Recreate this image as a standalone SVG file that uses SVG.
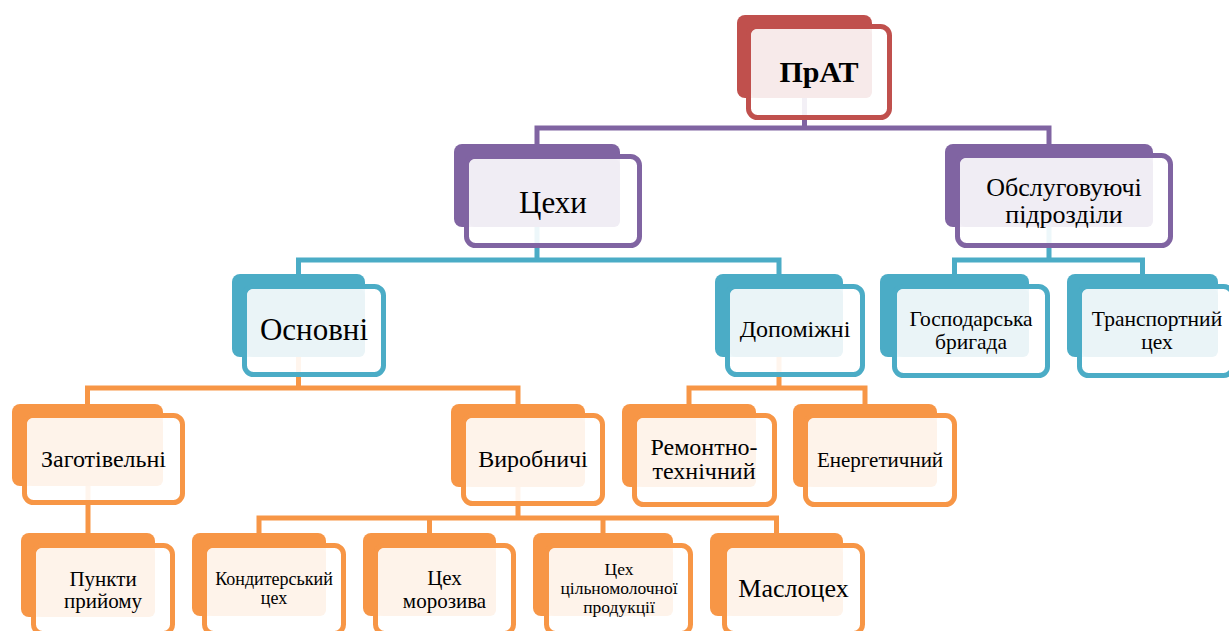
<svg xmlns="http://www.w3.org/2000/svg" width="1229" height="631" viewBox="0 0 1229 631">
<style>
.t{font-family:"Liberation Serif","Times New Roman",serif;fill:#000;text-anchor:middle}
.c{fill:none;stroke-width:5;stroke-linecap:butt;stroke-linejoin:miter}
.o{fill:#fff;fill-opacity:.9;stroke-width:5}
.rb{fill:#C0504D}.ro{stroke:#C0504D}.ri{fill:#F7EAEA}
.pb{fill:#8064A2}.po{stroke:#8064A2}.pi{fill:#F0EDF4}
.tb{fill:#4BACC6}.to{stroke:#4BACC6}.ti{fill:#EAF4F7}
.ob{fill:#F79646}.oo{stroke:#F79646}.oi{fill:#FEF3EA}
</style>
<rect width="1229" height="631" fill="#fff"/>
<g id="connectors">
<path class="c" stroke="#8064A2" d="M537,144V128H1049V144M804.5,98V128"/>
<path class="c" stroke="#4BACC6" d="M298.5,274V260H779V274M537,227V260"/>
<path class="c" stroke="#4BACC6" d="M954.5,274V260H1142.5V274M1049,227V260"/>
<path class="c" stroke="#F79646" d="M87.5,404V388H518V404M298.5,357V388"/>
<path class="c" stroke="#F79646" d="M689,404V388H865V404M779,357V388"/>
<path class="c" stroke="#F79646" d="M88,486V533"/>
<path class="c" stroke="#F79646" d="M259,533V518H776.5V533M518,487V518M429.5,518V533M603,518V533"/>
</g>
<g id="n-prat">
<rect class="rb" x="737" y="15" width="135" height="83" rx="8"/>
<rect class="o ro" x="748.5" y="26.5" width="141" height="91" rx="9"/>
<rect class="ri" x="751" y="29" width="121" height="69" rx="6"/>
<text class="t" x="819" y="82" font-size="30" font-weight="bold">ПрАТ</text>
</g>
<g id="n-tsekhy">
<rect class="pb" x="454" y="144" width="166" height="83" rx="8"/>
<rect class="o po" x="466.5" y="156.5" width="173" height="89" rx="9"/>
<rect class="pi" x="469" y="159" width="151" height="68" rx="6"/>
<text class="t" x="553" y="213" font-size="31">Цехи</text>
</g>
<g id="n-obsl">
<rect class="pb" x="945" y="144" width="208" height="83" rx="8"/>
<rect class="o po" x="957.5" y="155.5" width="213" height="90" rx="9"/>
<rect class="pi" x="960" y="158" width="193" height="69" rx="6"/>
<text class="t" x="1064" y="196" font-size="26">Обслуговуючі</text>
<text class="t" x="1064" y="223" font-size="26">підрозділи</text>
</g>
<g id="n-osnovni">
<rect class="tb" x="232" y="274" width="133" height="83" rx="8"/>
<rect class="o to" x="244.5" y="286.5" width="139" height="88" rx="9"/>
<rect class="ti" x="247" y="289" width="118" height="68" rx="6"/>
<text class="t" x="314" y="340" font-size="31">Основні</text>
</g>
<g id="n-dopomizhni">
<rect class="tb" x="715" y="274" width="128" height="83" rx="8"/>
<rect class="o to" x="727.5" y="286.5" width="135" height="88" rx="9"/>
<rect class="ti" x="730" y="289" width="113" height="68" rx="6"/>
<text class="t" x="795" y="337" font-size="24">Допоміжні</text>
</g>
<g id="n-hospbryhada">
<rect class="tb" x="880" y="274" width="149" height="83" rx="8"/>
<rect class="o to" x="894.5" y="286.5" width="153" height="89" rx="9"/>
<rect class="ti" x="897" y="289" width="132" height="68" rx="6"/>
<text class="t" x="971" y="326" font-size="21.5">Господарська</text>
<text class="t" x="971" y="349" font-size="21.5">бригада</text>
</g>
<g id="n-transport">
<rect class="tb" x="1067" y="274" width="151" height="83" rx="8"/>
<rect class="o to" x="1079.5" y="286.5" width="153" height="89" rx="9"/>
<rect class="ti" x="1082" y="289" width="136" height="68" rx="6"/>
<text class="t" x="1157" y="326" font-size="21.5">Транспортний</text>
<text class="t" x="1157" y="349" font-size="21.5">цех</text>
</g>
<g id="n-zahotivelni">
<rect class="ob" x="12" y="404" width="151" height="82" rx="8"/>
<rect class="o oo" x="24.5" y="415.5" width="158" height="87" rx="9"/>
<rect class="oi" x="27" y="418" width="136" height="68" rx="6"/>
<text class="t" x="103.5" y="467" font-size="24">Заготівельні</text>
</g>
<g id="n-vyrobnychi">
<rect class="ob" x="451" y="404" width="134" height="83" rx="8"/>
<rect class="o oo" x="463.5" y="415.5" width="139" height="88" rx="9"/>
<rect class="oi" x="466" y="418" width="119" height="69" rx="6"/>
<text class="t" x="533" y="467" font-size="24">Виробничі</text>
</g>
<g id="n-remontno">
<rect class="ob" x="622" y="404" width="134" height="83" rx="8"/>
<rect class="o oo" x="634.5" y="415.5" width="140" height="89" rx="9"/>
<rect class="oi" x="637" y="418" width="119" height="69" rx="6"/>
<text class="t" x="704" y="455" font-size="24">Ремонтно-</text>
<text class="t" x="704" y="479" font-size="24">технічний</text>
</g>
<g id="n-enerhetychnyi">
<rect class="ob" x="793" y="404" width="144" height="83" rx="8"/>
<rect class="o oo" x="805.5" y="415.5" width="149" height="89" rx="9"/>
<rect class="oi" x="808" y="418" width="129" height="69" rx="6"/>
<text class="t" x="880" y="467" font-size="21">Енергетичний</text>
</g>
<g id="n-punkty">
<rect class="ob" x="21" y="533" width="134" height="84" rx="8"/>
<rect class="o oo" x="33.5" y="545.5" width="139" height="88" rx="9"/>
<rect class="oi" x="36" y="548" width="119" height="69" rx="6"/>
<text class="t" x="103" y="586" font-size="21">Пункти</text>
<text class="t" x="103" y="608" font-size="21">прийому</text>
</g>
<g id="n-kondyterskyi">
<rect class="ob" x="192" y="533" width="134" height="83" rx="8"/>
<rect class="o oo" x="204.5" y="545.5" width="139" height="88" rx="9"/>
<rect class="oi" x="207" y="548" width="119" height="68" rx="6"/>
<text class="t" x="274" y="585" font-size="18">Кондитерський</text>
<text class="t" x="274" y="604" font-size="18">цех</text>
</g>
<g id="n-morozyvo">
<rect class="ob" x="363" y="533" width="133" height="83" rx="8"/>
<rect class="o oo" x="375.5" y="545.5" width="138" height="88" rx="9"/>
<rect class="oi" x="378" y="548" width="118" height="68" rx="6"/>
<text class="t" x="444.5" y="585" font-size="21">Цех</text>
<text class="t" x="444.5" y="608" font-size="21">морозива</text>
</g>
<g id="n-tsilnomolochna">
<rect class="ob" x="533" y="533" width="140" height="83" rx="8"/>
<rect class="o oo" x="546.5" y="545.5" width="144" height="88" rx="9"/>
<rect class="oi" x="549" y="548" width="124" height="68" rx="6"/>
<text class="t" x="619" y="575" font-size="17.5">Цех</text>
<text class="t" x="619" y="594" font-size="17.5">цільномолочної</text>
<text class="t" x="619" y="613" font-size="17.5">продукції</text>
</g>
<g id="n-maslotsekh">
<rect class="ob" x="710" y="533" width="133" height="83" rx="8"/>
<rect class="o oo" x="724.5" y="545.5" width="138" height="88" rx="9"/>
<rect class="oi" x="727" y="548" width="116" height="68" rx="6"/>
<text class="t" x="793.5" y="597" font-size="26">Маслоцех</text>
</g>
</svg>
